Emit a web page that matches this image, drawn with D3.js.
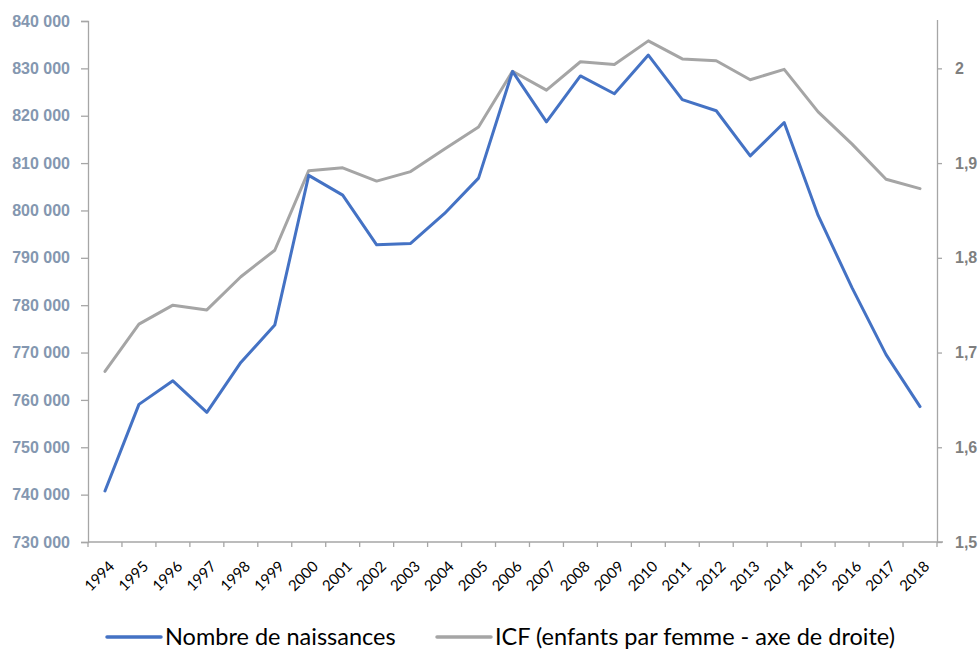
<!DOCTYPE html>
<html>
<head>
<meta charset="utf-8">
<script src="https://cdn.jsdelivr.net/npm/d3@7"></script>
<style>
  body { margin: 0; background: #fff; }
  svg { display: block; font-family: Lato, "Noto Sans", sans-serif; }
</style>
</head>
<body>
<svg id="chart" width="980" height="653"></svg>
<script>
const years = ['1994', '1995', '1996', '1997', '1998', '1999', '2000', '2001', '2002', '2003', '2004', '2005',
  '2006', '2007', '2008', '2009', '2010', '2011', '2012', '2013', '2014', '2015', '2016', '2017', '2018'];

// nombre de naissances (axe de gauche)
const births = [740774, 759058, 764028, 757384, 767906, 775796, 807405, 803234, 792745, 793044, 799361, 806822,
  829352, 818705, 828404, 824641, 832799, 823394, 821047, 811510, 818565, 798948, 783640, 769553, 758590];

// ICF, enfants par femme (axe de droite)
const icf = [1.68, 1.73, 1.75, 1.745, 1.78, 1.808, 1.892, 1.895, 1.881, 1.891, 1.915, 1.938,
  1.997, 1.977, 2.007, 2.004, 2.029, 2.01, 2.008, 1.988, 1.999, 1.954, 1.92, 1.883, 1.873];

const leftTicks = [730000, 740000, 750000, 760000, 770000, 780000, 790000, 800000, 810000, 820000, 830000, 840000];
const rightTicks = [1.5, 1.6, 1.7, 1.8, 1.9, 2];

const margin = { top: 21, right: 43, bottom: 111, left: 88 };
const width = 980, height = 653;

const svg = d3.select('#chart');

const x = d3.scaleBand()
  .domain(years)
  .range([margin.left, width - margin.right]);

const yLeft = d3.scaleLinear()
  .domain([730000, 840000])
  .range([height - margin.bottom, margin.top]);

const yRight = d3.scaleLinear()
  .domain([1.5, 2.05])
  .range([height - margin.bottom, margin.top]);

const axisColor = '#a6a6a6';
const thousands = d3.formatLocale({ decimal: ',', thousands: '\u00a0', grouping: [3] }).format(',d');
const comma = d => String(d).replace('.', ',');

// axe de gauche
const gLeft = svg.append('g')
  .attr('transform', `translate(${margin.left},0)`)
  .call(d3.axisLeft(yLeft).tickValues(leftTicks).tickSize(7).tickPadding(11).tickFormat(thousands));
gLeft.select('.domain').attr('stroke', axisColor).attr('stroke-width', 1.3);
gLeft.selectAll('.tick line').attr('stroke', axisColor).attr('stroke-width', 1.3);
gLeft.selectAll('.tick text')
  .attr('fill', '#8497b0')
  .style('font-size', '16px')
  .style('font-weight', 'bold');

// axe de droite
const gRight = svg.append('g')
  .attr('transform', `translate(${width - margin.right},0)`)
  .call(d3.axisRight(yRight).tickValues(rightTicks).tickSize(5).tickPadding(13).tickFormat(comma));
gRight.select('.domain').attr('stroke', axisColor).attr('stroke-width', 1.3)
  .attr('d', `M0.5,${margin.top - 1}V${height - margin.bottom}`);
gRight.selectAll('.tick line').attr('stroke', axisColor).attr('stroke-width', 1.3);
gRight.selectAll('.tick text')
  .attr('fill', '#7f7f7f')
  .style('font-size', '16px')
  .style('font-weight', 'bold');

// axe des abscisses, graduations entre les catégories
const xTicks = years.map(d => x(d)).concat([x.range()[1]]);
const gx = svg.append('g').attr('class', 'x-axis');
gx.append('line')
  .attr('x1', margin.left).attr('x2', width - margin.right + 6)
  .attr('y1', yLeft(730000)).attr('y2', yLeft(730000))
  .attr('stroke', axisColor).attr('stroke-width', 1.3);
gx.selectAll('.xt')
  .data(xTicks)
  .join('line')
  .attr('class', 'xt')
  .attr('x1', d => d).attr('x2', d => d)
  .attr('y1', yLeft(730000)).attr('y2', yLeft(730000) + 5)
  .attr('stroke', axisColor).attr('stroke-width', 1.3);
gx.selectAll('text')
  .data(years)
  .join('text')
  .attr('transform', d => `translate(${x(d) + x.bandwidth() / 2 + 3},${yLeft(730000) + 18}) rotate(-45)`)
  .attr('text-anchor', 'end')
  .attr('dy', '0.7em')
  .attr('fill', '#000')
  .style('font-size', '15px')
  .text(d => d);

// courbes
const cx = d => x(d) + x.bandwidth() / 2;

const lineBirths = d3.line()
  .x((d, i) => cx(years[i]))
  .y(d => yLeft(d));

const lineIcf = d3.line()
  .x((d, i) => cx(years[i]))
  .y(d => yRight(d));

svg.append('path')
  .datum(icf)
  .attr('fill', 'none')
  .attr('stroke', '#a5a5a5')
  .attr('stroke-width', 3)
  .attr('stroke-linecap', 'round')
  .attr('stroke-linejoin', 'round')
  .attr('d', lineIcf);

svg.append('path')
  .datum(births)
  .attr('fill', 'none')
  .attr('stroke', '#4472c4')
  .attr('stroke-width', 3)
  .attr('stroke-linecap', 'round')
  .attr('stroke-linejoin', 'round')
  .attr('d', lineBirths);

// légende
const legendItems = [
  { label: 'Nombre de naissances', color: '#4472c4', x: 107 },
  { label: 'ICF (enfants par femme - axe de droite)', color: '#a5a5a5', x: 437 }
];
const legend = svg.append('g').attr('class', 'legend');
const li = legend.selectAll('g')
  .data(legendItems)
  .join('g')
  .attr('transform', d => `translate(${d.x},637)`);
li.append('line')
  .attr('x1', 0).attr('x2', 54)
  .attr('stroke', d => d.color)
  .attr('stroke-width', 3.5)
  .attr('stroke-linecap', 'round');
li.append('text')
  .attr('x', 58)
  .attr('dy', '0.35em')
  .attr('fill', '#000')
  .style('font-size', '23.5px')
  .text(d => d.label);
</script>
</body>
</html>
